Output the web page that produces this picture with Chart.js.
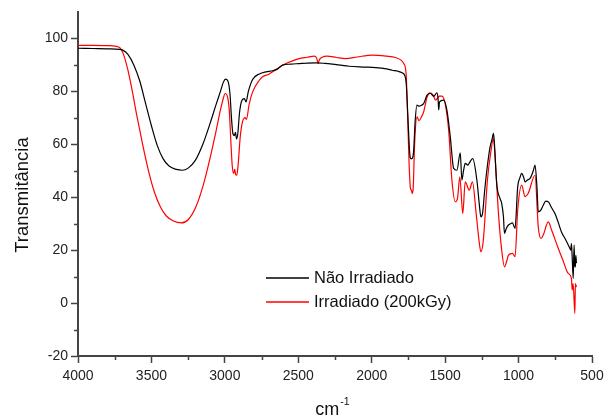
<!DOCTYPE html>
<html>
<head>
<meta charset="utf-8">
<script src="https://cdn.jsdelivr.net/npm/chart.js@4.4.1/dist/chart.umd.min.js"></script>
<style>
  html, body { margin: 0; padding: 0; background: #fff; }
  #caixa { width: 604px; height: 417px; }
</style>
</head>
<body>
<div id="caixa"><canvas id="graficoFTIR"></canvas></div>
<script>
// Não Irradiado (curva preta)
const ondaNaoIrr = [4000, 3900, 3800, 3720, 3695, 3660, 3620, 3580, 3540, 3500, 3460, 3420, 3380, 3330, 3290, 3250, 3200, 3150, 3100, 3060, 3030, 3010, 2995, 2980, 2965, 2955, 2945, 2935, 2928, 2920, 2912, 2900, 2885, 2867, 2856, 2840, 2811, 2765, 2720, 2675, 2640, 2607, 2550, 2494, 2440, 2381, 2320, 2268, 2200, 2155, 2060, 1974, 1900, 1861, 1820, 1793, 1775, 1765, 1755, 1745, 1738, 1730, 1722, 1714, 1705, 1692, 1678, 1660, 1646, 1623, 1600, 1578, 1556, 1548, 1544, 1538, 1510, 1488, 1465, 1442, 1420, 1397, 1386, 1375, 1363, 1345, 1335, 1312, 1284, 1265, 1257, 1245, 1230, 1216, 1194, 1180, 1171, 1165, 1149, 1126, 1115, 1103, 1096, 1085, 1069, 1055, 1042, 1024, 1006, 990, 979, 965, 956, 940, 922, 900, 888, 875, 866, 850, 832, 815, 798, 775, 753, 730, 708, 680, 651, 645, 640, 635, 628, 622, 617, 613, 610, 606];
const transNaoIrr = [96.3, 96.2, 96.1, 95.9, 95.6, 94, 90, 84, 75.5, 67, 59.5, 54.5, 51.8, 50.5, 50.2, 51, 54, 60, 68, 75, 80, 83.5, 84.6, 84, 79, 70, 64, 63.3, 64.5, 62, 64, 72, 76.5, 77.3, 76, 80, 84.5, 86.6, 87.4, 87.8, 88.6, 89.9, 90.3, 90.5, 90.7, 90.8, 90.6, 90.3, 89.8, 89.5, 89.2, 89, 88.5, 88, 87.6, 87, 86, 83, 72, 60, 55, 54.5, 54.8, 58, 68, 74.8, 74.4, 74.8, 75.4, 78.6, 79.2, 78.2, 79.4, 77, 73, 76, 76.7, 72.9, 62.8, 50.9, 50.2, 56.8, 46.5, 50, 52.8, 52.1, 53, 54.6, 46.5, 36, 32.6, 34, 43, 50.2, 59, 62, 64.1, 60.9, 45.2, 39.5, 37.7, 32.6, 26.3, 28, 29.5, 30, 30.3, 28.2, 43.9, 47.5, 49, 47.5, 45.8, 46.5, 47.1, 50, 52.1, 44, 34.5, 35, 37, 38.5, 38.3, 36, 33.9, 30.5, 26.9, 24, 20.7, 20, 22.5, 17.5, 9.3, 21.9, 14, 13.7, 18, 15.1];

// Irradiado 200kGy (curva vermelha)
const ondaIrr = [4000, 3900, 3800, 3740, 3715, 3690, 3660, 3630, 3600, 3560, 3520, 3480, 3440, 3400, 3350, 3297, 3250, 3200, 3150, 3100, 3060, 3030, 3010, 2998, 2985, 2970, 2960, 2950, 2940, 2933, 2926, 2919, 2910, 2895, 2880, 2862, 2853, 2835, 2811, 2765, 2743, 2700, 2675, 2640, 2607, 2550, 2494, 2440, 2392, 2375, 2365, 2358, 2340, 2302, 2240, 2177, 2100, 1997, 1900, 1838, 1800, 1782, 1766, 1755, 1745, 1735, 1729, 1725, 1718, 1708, 1692, 1678, 1660, 1646, 1623, 1605, 1582, 1565, 1540, 1522, 1500, 1476, 1454, 1431, 1416, 1400, 1380, 1363, 1336, 1314, 1289, 1270, 1257, 1240, 1212, 1189, 1171, 1160, 1137, 1115, 1096, 1080, 1069, 1042, 1024, 1006, 979, 956, 935, 888, 866, 847, 832, 798, 775, 730, 700, 662, 640, 635, 628, 617, 613, 606];
const transIrr = [97.4, 97.4, 97.3, 97, 96.5, 94, 88, 80, 71, 60, 50, 42, 36.5, 33, 31, 30.3, 31.5, 36, 44, 55, 65, 73, 77.5, 79.2, 78.5, 73, 62, 52, 49, 50.5, 48.5, 48.3, 52, 63, 68.5, 70.1, 69.4, 75, 79.8, 84.2, 85.5, 86.5, 87.4, 88.5, 89.9, 91.3, 92.4, 92.9, 93.3, 92.6, 90.5, 91.8, 92.8, 93.3, 92.8, 92.4, 93, 93.7, 93.3, 92.8, 91.8, 90.5, 86.8, 70, 52, 43, 42.7, 41.4, 43, 60, 70.4, 68.9, 70.5, 72.3, 77.9, 79.4, 78.6, 76.7, 78.2, 78.2, 75.4, 65.3, 46.5, 38.3, 39.5, 47.7, 33.9, 45.8, 42.7, 45.8, 33.9, 24, 19.4, 23.8, 46.5, 57.1, 62.2, 55.3, 33.9, 20, 13.7, 16, 18.1, 18.8, 17.5, 35.1, 44.6, 40.2, 41.4, 48.3, 28.8, 24.4, 25.7, 30.7, 27.6, 20.7, 16.5, 11.2, 9.3, 4.9, 7.4, -3.9, 7.4, 6];

const nomesSeries = ["Não Irradiado", "Irradiado (200kGy)"];
const coresSeries = ["#000000", "#ff0000"];

// marcas menores dos eixos (sem rotulo)
const menoresX = [3750, 3250, 2750, 2250, 1750, 1250, 750];
const menoresY = [-10, 10, 30, 50, 70, 90];

const fonte = '"Liberation Sans", Arial, sans-serif';
const corEixo = "#444";

function montarPontos(onda, trans) {
  return onda.map((x, i) => ({ x: x, y: trans[i] }));
}

// titulos dos eixos, marcas menores e legenda desenhados a mao
const textosExtras = {
  id: "textosExtras",
  afterDraw(chart) {
    const ctx = chart.ctx;
    const area = chart.chartArea;
    const sx = chart.scales.x;
    const sy = chart.scales.y;
    ctx.save();

    // marcas menores
    ctx.strokeStyle = corEixo;
    ctx.lineWidth = 1.5;
    ctx.beginPath();
    menoresX.forEach(v => {
      const px = Math.round(sx.getPixelForValue(v)) + 0.5;
      ctx.moveTo(px, area.bottom);
      ctx.lineTo(px, area.bottom + 4);
    });
    menoresY.forEach(v => {
      const py = Math.round(sy.getPixelForValue(v)) + 0.5;
      ctx.moveTo(area.left, py);
      ctx.lineTo(area.left - 4, py);
    });
    ctx.stroke();

    ctx.fillStyle = "#111";

    // eixo y
    ctx.save();
    ctx.translate(23, 195);
    ctx.rotate(-Math.PI / 2);
    ctx.font = "18.5px " + fonte;
    ctx.textAlign = "center";
    ctx.textBaseline = "middle";
    ctx.fillText("Transmitância", 0, 0);
    ctx.restore();

    // eixo x: cm^-1
    ctx.font = "18px " + fonte;
    const wCm = ctx.measureText("cm").width;
    ctx.font = "10.5px " + fonte;
    const wSup = ctx.measureText("-1").width;
    const x0 = (area.left + area.right) / 2 - (wCm + wSup) / 2 - 3;
    ctx.textAlign = "left";
    ctx.textBaseline = "alphabetic";
    ctx.font = "18px " + fonte;
    ctx.fillText("cm", x0, 415);
    ctx.font = "10.5px " + fonte;
    ctx.fillText("-1", x0 + wCm + 1, 405);

    // legenda
    ctx.font = "16.5px " + fonte;
    ctx.textBaseline = "middle";
    nomesSeries.forEach((nome, i) => {
      const y = 278 + i * 24;
      ctx.strokeStyle = coresSeries[i];
      ctx.lineWidth = 1.3;
      ctx.beginPath();
      ctx.moveTo(266, y);
      ctx.lineTo(309, y);
      ctx.stroke();
      ctx.fillStyle = "#111";
      ctx.fillText(nome, 314, y);
    });
    ctx.restore();
  }
};

const ctx = document.getElementById("graficoFTIR").getContext("2d");
new Chart(ctx, {
  type: "line",
  data: {
    datasets: [
      {
        label: nomesSeries[0],
        data: montarPontos(ondaNaoIrr, transNaoIrr),
        borderColor: coresSeries[0],
        borderWidth: 1.2,
        pointRadius: 0,
        cubicInterpolationMode: "monotone"
      },
      {
        label: nomesSeries[1],
        data: montarPontos(ondaIrr, transIrr),
        borderColor: coresSeries[1],
        borderWidth: 1.2,
        pointRadius: 0,
        cubicInterpolationMode: "monotone"
      }
    ]
  },
  options: {
    responsive: true,
    maintainAspectRatio: false,
    animation: false,
    layout: { padding: { top: 12, right: 12, left: 0, bottom: 0 } },
    plugins: {
      legend: { display: false },
      tooltip: { enabled: false }
    },
    scales: {
      x: {
        type: "linear",
        reverse: true,
        min: 500,
        max: 4000,
        border: { color: corEixo, width: 2 },
        grid: { drawOnChartArea: false, tickLength: 7, tickColor: corEixo, tickWidth: 1.5 },
        ticks: {
          stepSize: 500,
          autoSkip: false,
          maxRotation: 0,
          padding: 5,
          color: "#222",
          font: { family: fonte, size: 14 },
          callback: v => String(v)
        },
        afterFit: s => { s.height = 61; s.paddingLeft = 0; s.paddingRight = 0; }
      },
      y: {
        min: -20,
        max: 110,
        border: { color: corEixo, width: 2 },
        grid: { drawOnChartArea: false, tickLength: 7, tickColor: corEixo, tickWidth: 1.5 },
        ticks: {
          stepSize: 20,
          autoSkip: false,
          padding: 3,
          color: "#222",
          font: { family: fonte, size: 14 },
          callback: v => String(v)
        },
        afterBuildTicks: s => { s.ticks = s.ticks.filter(t => t.value < 110); },
        afterFit: s => { s.width = 78; s.paddingTop = 0; s.paddingBottom = 0; }
      }
    }
  },
  plugins: [textosExtras]
});
</script>
</body>
</html>
